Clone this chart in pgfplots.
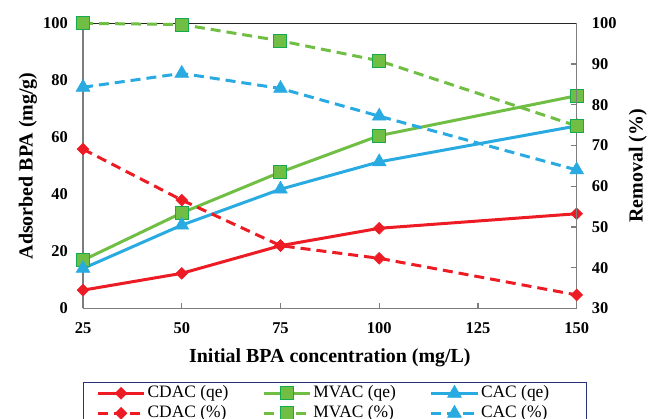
\documentclass[border=0pt]{standalone}
\usepackage{fontspec}
\setmainfont{Liberation Serif}
\usepackage{pgfplots}
\pgfplotsset{compat=1.18}
\definecolor{cred}{RGB}{237,28,36}
\definecolor{cgreen}{RGB}{112,190,68}
\definecolor{cblue}{RGB}{41,171,226}
\definecolor{gedge}{RGB}{20,170,80}
\definecolor{axgray}{RGB}{125,125,125}
\definecolor{legframe}{RGB}{40,50,120}
\pgfplotsset{
  cdacqe/.style={color=cred, line width=3bp, solid, mark=square*, mark size=4.2bp, mark options={solid, rotate=45, fill=cred, draw=cred, line width=0.5bp}},
  mvacqe/.style={color=cgreen, line width=3bp, solid, mark=square*, mark size=6.5bp, mark options={solid, fill=cgreen, draw=gedge, line width=1bp}},
  cacqe/.style={color=cblue, line width=3bp, solid, mark=triangle*, mark size=8bp, mark options={solid, fill=cblue, draw=cblue, line width=0.5bp}},
  cdacp/.style={cdacqe, dash pattern=on 10bp off 6bp},
  mvacp/.style={mvacqe, dash pattern=on 10bp off 6bp},
  cacp/.style={cacqe, dash pattern=on 10bp off 6bp},
  common/.style={
    scale only axis, width=493.5bp, height=285bp,
    xmin=25, xmax=150, clip=false,
    /pgf/number format/assume math mode=true,
    tick label style={font=\fontsize{16.5}{18}\selectfont\bfseries},
  },
}
\begin{document}
\begin{tikzpicture}
\begin{axis}[common, name=ax,
  ymin=0, ymax=100,
  xtick={25,50,75,100,125,150},
  ytick={0,20,40,60,80,100},
  axis x line*=bottom, axis y line*=left,
  axis line style={draw=axgray, line width=1.6bp},
  x tick style={draw=axgray, line width=1.2bp}, tick align=inside,
  major tick length=5bp,
  y tick style={draw=none},
  xticklabel style={anchor=center, inner sep=0pt, yshift=-20bp},
  yticklabel style={anchor=east, inner sep=0pt, xshift=-15bp},
  every axis x label/.style={at={(axis description cs:0.5,-0.172)}, anchor=center, font=\fontsize{20}{22}\selectfont\bfseries},
  every axis y label/.style={at={(axis description cs:-0.1115,0.5)}, anchor=center, rotate=90, font=\fontsize{20}{22}\selectfont\bfseries},
  xlabel={Initial BPA concentration (mg/L)},
  ylabel={Adsorbed BPA (mg/g)},
]
\addplot[cdacqe] coordinates {(25,6.4) (50,12.3) (75,22.0) (100,28.1) (150,33.2)};
\addplot[mvacqe] coordinates {(25,16.9) (50,33.5) (75,47.8) (100,60.6) (150,74.6)};
\addplot[cacqe] coordinates {(25,14.0) (50,29.2) (75,41.8) (100,51.4) (150,64.0)};
\end{axis}
\begin{axis}[common,
  ymin=30, ymax=100,
  ytick={30,40,50,60,70,80,90,100},
  axis x line*=top, axis y line*=right,
  xtick=\empty,
  x axis line style={draw=black!85, line width=1.4bp},
  y axis line style={draw=axgray, line width=1.6bp},
  y tick style={draw=axgray, line width=1.2bp}, tick align=inside,
  major tick length=6bp,
  yticklabel style={anchor=west, inner sep=0pt, xshift=15bp},
  every axis y label/.style={at={(axis description cs:1.124,0.5)}, anchor=center, rotate=90, font=\fontsize{20}{22}\selectfont\bfseries},
  ylabel={Removal (\%)},
  legend columns=3,
  legend cell align=left,
  legend image code/.code={\draw[mark repeat=2,mark phase=2] plot coordinates {(0bp,0bp) (23bp,0bp) (46bp,0bp)};},
  legend style={at={(axis description cs:0,-0.2575)}, anchor=north west,
    draw=legframe, line width=1bp, inner xsep=13bp, inner ysep=1bp,
    font=\fontsize{17.5}{20}\selectfont,
    nodes={inner sep=2bp, text height=12bp, text depth=4bp},
    /tikz/every even column/.append style={column sep=32bp}},
]
\addlegendimage{cdacqe}\addlegendentry{CDAC (qe)}
\addlegendimage{mvacqe}\addlegendentry{MVAC (qe)}
\addlegendimage{cacqe}\addlegendentry{CAC (qe)\rule{22bp}{0pt}}
\addplot[cdacp] coordinates {(25,69.1) (50,56.6) (75,45.4) (100,42.3) (150,33.3)};
\addlegendentry{CDAC (\%)}
\addplot[mvacp] coordinates {(25,100) (50,99.7) (75,95.7) (100,90.8) (150,74.8)};
\addlegendentry{MVAC (\%)}
\addplot[cacp] coordinates {(25,84.3) (50,87.7) (75,84.0) (100,77.2) (150,64.0)};
\addlegendentry{CAC (\%)}
\end{axis}
\pgfresetboundingbox
\useasboundingbox ([xshift=-83bp,yshift=-109.7bp]ax.south west) rectangle ([xshift=71.3bp,yshift=23.3bp]ax.north east);
\end{tikzpicture}
\end{document}
